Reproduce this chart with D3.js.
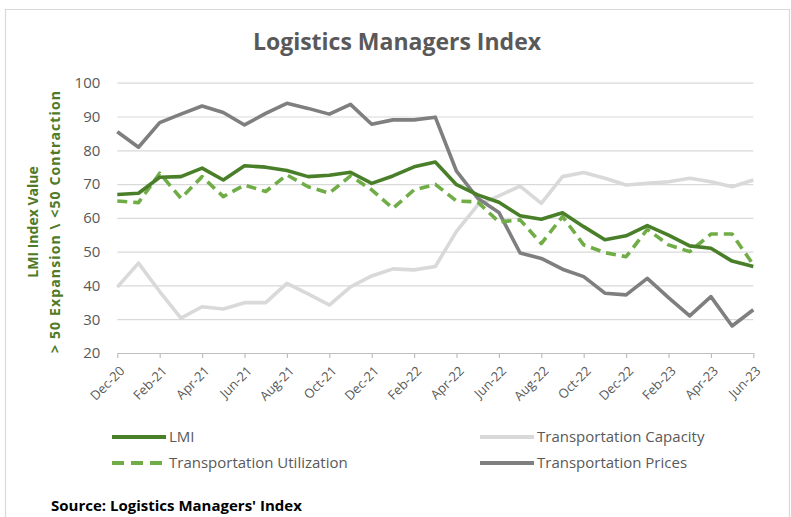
<!DOCTYPE html>
<html><head><meta charset="utf-8">
<script src="https://cdn.jsdelivr.net/npm/d3@7"></script>
<style>
html,body{margin:0;padding:0;background:#fff;}
svg{display:block;}
</style></head>
<body>
<script>
const months = ["Dec-20","Jan-21","Feb-21","Mar-21","Apr-21","May-21","Jun-21","Jul-21","Aug-21","Sep-21","Oct-21","Nov-21","Dec-21","Jan-22","Feb-22","Mar-22","Apr-22","May-22","Jun-22","Jul-22","Aug-22","Sep-22","Oct-22","Nov-22","Dec-22","Jan-23","Feb-23","Mar-23","Apr-23","May-23","Jun-23"];
const tickLabels = ["Dec-20","Feb-21","Apr-21","Jun-21","Aug-21","Oct-21","Dec-21","Feb-22","Apr-22","Jun-22","Aug-22","Oct-22","Dec-22","Feb-23","Apr-23","Jun-23"];
const yTicks = [20,30,40,50,60,70,80,90,100];
const lmi = [66.9,67.3,72.0,72.2,74.7,71.2,75.4,75.0,74.0,72.2,72.6,73.5,70.2,72.4,75.1,76.5,69.8,66.8,64.6,60.6,59.6,61.5,57.4,53.5,54.7,57.7,54.9,51.7,51.0,47.2,45.6];
const utilization = [65.0,64.5,73.2,65.8,72.2,66.3,69.7,67.8,72.7,69.2,67.3,72.4,68.3,62.8,68.3,69.9,65.0,64.7,58.8,59.4,52.4,60.4,52.0,49.7,48.5,56.6,52.0,50.0,55.2,55.2,46.1];
const capacity = [39.5,46.6,38.2,30.3,33.7,33.0,34.9,34.9,40.6,37.5,34.2,39.6,42.8,44.9,44.6,45.6,56.0,63.8,66.5,69.4,64.3,72.2,73.4,71.7,69.7,70.2,70.7,71.7,70.7,69.2,71.2];
const prices = [85.5,80.9,88.2,90.7,93.1,91.2,87.5,90.9,93.9,92.4,90.7,93.6,87.7,89.0,89.0,89.8,73.8,65.8,61.6,49.6,48.0,44.8,42.6,37.7,37.2,42.1,36.4,31.0,36.7,28.0,32.8];

const W = 791, H = 517;
const svg = d3.select("body").append("svg").attr("width", W).attr("height", H);
const font = "'Open Sans',sans-serif";
const txt = "#595959";

// chart border
svg.append("path").attr("d", `M5.5,${H} V9.5 H789.5 V${H}`).attr("fill","none").attr("stroke","#d9d9d9").attr("stroke-width",1.2);

const x = d3.scalePoint().domain(months).range([117.3, 753.3]);
const y = d3.scaleLinear().domain([20,100]).range([353, 82.7]);

// title
svg.append("text").attr("x", 397).attr("y", 50).attr("text-anchor","middle")
  .attr("font-family",font).attr("font-weight","bold").attr("font-size",23)
  .attr("fill", txt).text("Logistics Managers Index");

// gridlines
const yAxis = d3.axisLeft(y).tickValues(yTicks).tickSize(-(753.3-117.3)).tickPadding(17);
const gy = svg.append("g").attr("transform","translate(117.3,0)").call(yAxis);
gy.select(".domain").remove();
gy.selectAll(".tick line").attr("stroke","#d9d9d9").attr("stroke-width",1.2);
gy.selectAll(".tick").filter(d => d === 20).select("line").remove();
gy.selectAll(".tick text").attr("font-family", font).attr("font-size",15).attr("fill",txt);

// x axis
const xAxis = d3.axisBottom(x).tickValues(tickLabels).tickSize(5).tickSizeOuter(0);
const gx = svg.append("g").attr("transform","translate(0,353)").call(xAxis);
gx.select(".domain").attr("stroke","#bfbfbf").attr("stroke-width",1.2);
gx.selectAll(".tick line").attr("stroke","#bfbfbf").attr("stroke-width",1.2);
gx.selectAll(".tick text").attr("font-family", font).attr("font-size",13).attr("fill",txt)
  .attr("text-anchor","end").attr("dy",0).attr("dx",0)
  .attr("transform","translate(2,13) rotate(-45)");

// y axis title
const yt = svg.append("g").attr("transform","translate(0,222) rotate(-90)");
yt.append("text").attr("x",0).attr("y",38).attr("text-anchor","middle")
  .attr("font-family",font).attr("font-weight","bold").attr("font-size",14)
  .attr("fill","#4f7a28").text("LMI Index Value");
yt.append("text").attr("x",0).attr("y",60).attr("text-anchor","middle")
  .attr("font-family",font).attr("font-weight","bold").attr("font-size",14)
  .attr("textLength",262).attr("lengthAdjust","spacing")
  .attr("fill","#4f7a28").text("> 50 Expansion  \\ <50  Contraction");

const series = [
  {name:"Transportation Capacity", data:capacity, color:"#d9d9d9", dash:null},
  {name:"Transportation Prices", data:prices, color:"#7f7f7f", dash:null},
  {name:"Transportation Utilization", data:utilization, color:"#70ad47", dash:"10,6"},
  {name:"LMI", data:lmi, color:"#4a7f2a", dash:null}
];
const line = d3.line().x((d,i)=>x(months[i])).y(d=>y(d));
series.forEach(s=>{
  svg.append("path").datum(s.data).attr("d", line).attr("fill","none")
    .attr("stroke", s.color).attr("stroke-width",3.6).attr("stroke-linejoin","round")
    .attr("stroke-dasharray", s.dash);
});

// legend
const legend = [
  {name:"LMI", color:"#4a7f2a", dash:null, lx:112, ly:437},
  {name:"Transportation Capacity", color:"#d9d9d9", dash:null, lx:480, ly:437},
  {name:"Transportation Utilization", color:"#70ad47", dash:"12,7", lx:112, ly:463},
  {name:"Transportation Prices", color:"#7f7f7f", dash:null, lx:480, ly:463}
];
legend.forEach(l=>{
  svg.append("line").attr("x1",l.lx).attr("x2",l.lx+54).attr("y1",l.ly).attr("y2",l.ly)
    .attr("stroke",l.color).attr("stroke-width",4).attr("stroke-dasharray",l.dash);
  svg.append("text").attr("x",l.lx+57).attr("y",l.ly+5).attr("font-family",font)
    .attr("font-size",15).attr("fill",txt).text(l.name);
});

// source
svg.append("text").attr("x",51).attr("y",511).attr("font-family",font)
  .attr("font-weight","bold").attr("font-size",15).attr("fill","#000")
  .text("Source:  Logistics Managers' Index");
</script>
</body></html>
